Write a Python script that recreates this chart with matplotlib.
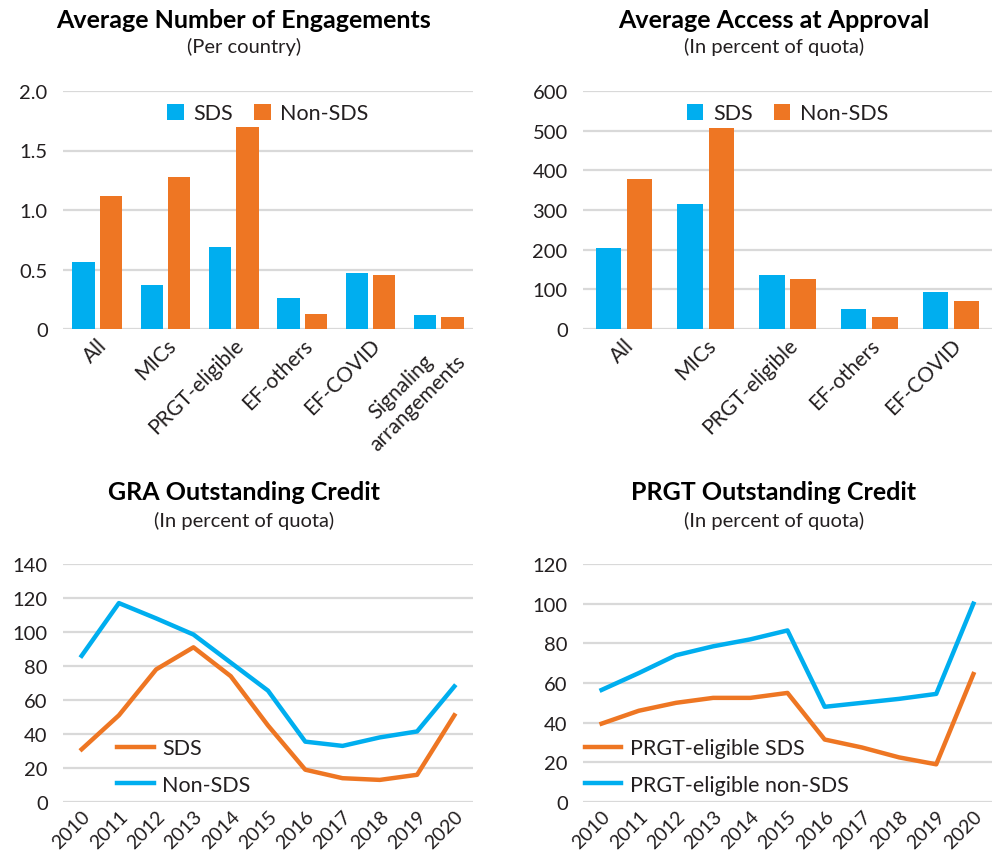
import matplotlib
matplotlib.use("Agg")
import matplotlib.pyplot as plt
import numpy as np

plt.rcParams['font.family'] = ['Lato', 'DejaVu Sans']

BLUE = '#00AEEF'
ORANGE = '#EE7623'
GRID = '#D9D9D9'
TXT = '#231F20'

# --- data ---
eng_cats = ['All', 'MICs', 'PRGT-eligible', 'EF-others', 'EF-COVID', 'Signaling\narrangements']
eng_sds = [0.56, 0.37, 0.69, 0.26, 0.47, 0.12]
eng_nonsds = [1.12, 1.28, 1.70, 0.13, 0.45, 0.10]

acc_cats = ['All', 'MICs', 'PRGT-eligible', 'EF-others', 'EF-COVID']
acc_sds = [204, 315, 136, 50, 93]
acc_nonsds = [378, 506, 126, 30, 70]

years = ['2010', '2011', '2012', '2013', '2014', '2015', '2016', '2017', '2018', '2019', '2020']
gra_sds = [31, 51, 78, 91, 74, 45, 19, 14, 13, 16, 51]
gra_nonsds = [86, 117, 108, 98.5, 82, 65.5, 35.5, 33, 38, 41.5, 68]
prgt_sds = [39.5, 46, 50, 52.5, 52.5, 55, 31.5, 27.5, 22.5, 19, 64.5]
prgt_nonsds = [56.5, 65, 74, 78.5, 82, 86.5, 48, 50, 52, 54.5, 100]

W, H = 992, 854
fig = plt.figure(figsize=(W / 100, H / 100), dpi=100)


def box(l, t, r, b):
    return [l / W, 1 - b / H, (r - l) / W, (b - t) / H]


def style(ax, ymax, step, fmt):
    ax.set_ylim(0, ymax)
    ticks = np.arange(0, ymax + step / 2, step)
    ax.set_yticks(ticks)
    ax.set_yticklabels([fmt(t) for t in ticks])
    for s in ax.spines.values():
        s.set_visible(False)
    ax.grid(axis='y', color=GRID, linewidth=1.6)
    ax.set_axisbelow(True)
    ax.tick_params(length=0, labelsize=14.5, colors=TXT, pad=11)


def bar_panel(ax, cats, sds, nonsds, width, off):
    x = np.arange(len(cats))
    ax.bar(x - off, sds, width, color=BLUE, label='SDS')
    ax.bar(x + off, nonsds, width, color=ORANGE, label='Non-SDS')
    ax.set_xlim(-0.5, len(cats) - 0.5)
    ax.set_xticks(x)
    ax.set_xticklabels(cats, rotation=45, ha='right', rotation_mode='anchor',
                       multialignment='center')
    ax.tick_params(axis='x', pad=4, labelsize=15)
    ax.legend(loc='upper center', bbox_to_anchor=(0.5, 1.03), ncol=2, frameon=False,
              fontsize=15.5, handlelength=0.75, handleheight=0.75, columnspacing=1.0,
              handletextpad=0.45, labelcolor=TXT)


def line_panel(ax, cats, sds, nonsds, lab_sds, lab_non):
    x = np.arange(len(cats))
    ax.plot(x, sds, color=ORANGE, lw=3.2, label=lab_sds, solid_joinstyle='round')
    ax.plot(x, nonsds, color=BLUE, lw=3.2, label=lab_non, solid_joinstyle='round')
    ax.set_xlim(-0.5, len(cats) - 0.5)
    ax.set_xticks(x)
    ax.set_xticklabels(cats, rotation=45, ha='right', rotation_mode='anchor')
    ax.tick_params(axis='x', pad=4, labelsize=14)


# top left
ax1 = fig.add_axes(box(63, 92, 473, 330))
style(ax1, 2.0, 0.5, lambda t: '0' if t == 0 else f'{t:.1f}')
bar_panel(ax1, eng_cats, eng_sds, eng_nonsds, 0.33, 0.2)

# top right
ax2 = fig.add_axes(box(583, 92, 992, 330))
style(ax2, 600, 100, lambda t: f'{int(t)}')
bar_panel(ax2, acc_cats, acc_sds, acc_nonsds, 0.31, 0.19)

leg_kw = dict(loc='lower left', frameon=False, fontsize=15.5, handlelength=1.7,
              handletextpad=0.4, labelspacing=0.75, labelcolor=TXT)

# bottom left
ax3 = fig.add_axes(box(63, 565, 473, 803))
style(ax3, 140, 20, lambda t: f'{int(t)}')
line_panel(ax3, years, gra_sds, gra_nonsds, 'SDS', 'Non-SDS')
ax3.legend(bbox_to_anchor=(0.085, -0.05), **leg_kw)

# bottom right
ax4 = fig.add_axes(box(583, 565, 992, 803))
style(ax4, 120, 20, lambda t: f'{int(t)}')
line_panel(ax4, years, prgt_sds, prgt_nonsds, 'PRGT-eligible SDS', 'PRGT-eligible non-SDS')
ax4.legend(bbox_to_anchor=(-0.043, -0.05), **leg_kw)

# titles
titles = [
    (244, 20, 47, 'Average Number of Engagements', '(Per country)'),
    (774, 20, 47, 'Average Access at Approval', '(In percent of quota)'),
    (244, 493, 521, 'GRA Outstanding Credit', '(In percent of quota)'),
    (774, 493, 521, 'PRGT Outstanding Credit', '(In percent of quota)'),
]
for cx, ty, sy, t, s in titles:
    fig.text(cx / W, 1 - ty / H, t, ha='center', va='center', fontsize=18,
             fontweight='bold', color='black')
    fig.text(cx / W, 1 - sy / H, s, ha='center', va='center', fontsize=14.5, color=TXT)

fig.savefig('out.png', dpi=100, facecolor='white')
